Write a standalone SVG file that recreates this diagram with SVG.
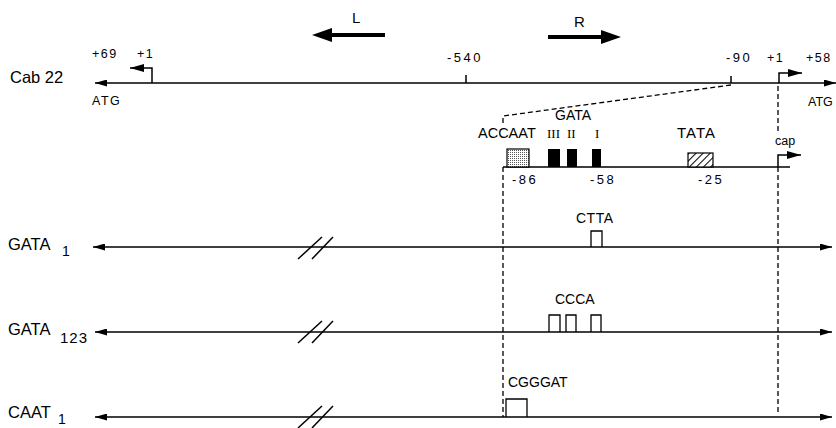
<svg xmlns="http://www.w3.org/2000/svg" width="836" height="428" viewBox="0 0 836 428">
<style>
  .ln { stroke:#000; stroke-width:1.5; fill:none; }
  .dash { stroke:#000; stroke-width:1.3; fill:none; stroke-dasharray:5 3; }
  .t { font-family:"Liberation Sans", Arial, sans-serif; fill:#000; }
  .r { font-family:"Liberation Serif", "Times New Roman", serif; fill:#000; }
  .lbl { font-size:16.5px; }
  .sub { font-size:14px; }
  .num { font-size:13px; letter-spacing:2.5px; }
  .pos { font-size:12.5px; letter-spacing:1.5px; }
  .seq { font-size:14px; }
  .box { stroke:#000; stroke-width:1.3; fill:none; }
</style>
<defs>
  <marker id="ah" markerUnits="userSpaceOnUse" markerWidth="12" markerHeight="7" refX="12" refY="3.5" orient="auto-start-reverse">
    <path d="M0,0 L12,3.5 L0,7 z" fill="#000"/>
  </marker>
  <marker id="bh" markerUnits="userSpaceOnUse" markerWidth="14" markerHeight="8" refX="14" refY="4" orient="auto">
    <path d="M0,0 L14,4 L0,8 z" fill="#000"/>
  </marker>
  <pattern id="dots" width="2" height="2" patternUnits="userSpaceOnUse">
    <rect width="2" height="2" fill="#fff"/>
    <rect width="1" height="1" fill="#555"/>
  </pattern>
  <pattern id="hatch" width="5" height="5" patternUnits="userSpaceOnUse" patternTransform="rotate(45)">
    <rect width="5" height="5" fill="#fff"/>
    <line x1="0" y1="0" x2="0" y2="5" stroke="#000" stroke-width="2"/>
  </pattern>
</defs>

<!-- direction arrows -->
<g id="arrow-L">
  <text class="t" x="352" y="23" font-size="15">L</text>
  <line x1="385" y1="35" x2="328" y2="35" stroke="#000" stroke-width="4"/>
  <polygon points="312,35 332,28 332,42" fill="#000"/>
</g>
<g id="arrow-R">
  <text class="t" x="574" y="27" font-size="15">R</text>
  <line x1="548" y1="37" x2="605" y2="37" stroke="#000" stroke-width="4"/>
  <polygon points="621,37 601,30 601,44" fill="#000"/>
</g>

<!-- Cab 22 -->
<g id="cab22">
  <text class="t lbl" x="10" y="83">Cab 22</text>
  <line class="ln" x1="95" y1="83" x2="836" y2="83" marker-start="url(#ah)" marker-end="url(#ah)"/>
  <polyline class="ln" points="152,83 152,68 130,68" marker-end="url(#bh)"/>
  <polyline class="ln" points="779,83 779,73 802,73" marker-end="url(#bh)"/>
  <line class="ln" x1="466" y1="75" x2="466" y2="83"/>
  <line class="ln" x1="731" y1="76" x2="731" y2="83"/>
  <text class="t pos" x="92" y="58">+69</text>
  <text class="t pos" x="137" y="58">+1</text>
  <text class="t pos" x="92" y="105" letter-spacing="0.5">ATG</text>
  <text class="t num" x="447" y="62">-540</text>
  <text class="t num" x="726" y="62">-90</text>
  <text class="t pos" x="767" y="62">+1</text>
  <text class="t pos" x="806" y="62" letter-spacing="1">+58</text>
  <text class="t" x="808" y="106" font-size="12.5">ATG</text>
</g>

<!-- promoter detail -->
<g id="promoter">
  <line class="ln" x1="503" y1="167" x2="790" y2="167"/>
  <rect x="507" y="149" width="22" height="18" fill="url(#dots)" stroke="#000" stroke-width="1.2"/>
  <rect x="548" y="149" width="12" height="18" fill="#000"/>
  <rect x="567" y="149" width="10" height="18" fill="#000"/>
  <rect x="592" y="149" width="9" height="18" fill="#000"/>
  <rect x="688" y="153" width="25" height="14" fill="url(#hatch)" stroke="#000" stroke-width="1.2"/>
  <polyline class="ln" points="778,167 778,155 801,155" marker-end="url(#bh)"/>
  <text class="t seq" x="555" y="120">GATA</text>
  <text class="t" x="478" y="138" font-size="14.5">ACCAAT</text>
  <text class="r" x="547" y="138" font-size="13">III</text>
  <text class="r" x="567" y="138" font-size="13">II</text>
  <text class="r" x="595" y="138" font-size="13">I</text>
  <text class="t" x="677" y="138" font-size="15" letter-spacing="1">TATA</text>
  <text class="t" x="775" y="145" font-size="12.5">cap</text>
  <text class="t num" x="512" y="184">-86</text>
  <text class="t num" x="590" y="184">-58</text>
  <text class="t num" x="698" y="184">-25</text>
</g>

<!-- GATA 1 -->
<g id="gata1">
  <text class="t lbl" x="8" y="250">GATA</text>
  <text class="t sub" x="62" y="256">1</text>
  <line class="ln" x1="93" y1="247" x2="832" y2="247" marker-start="url(#ah)" marker-end="url(#ah)"/>
  <line class="ln" x1="298" y1="259" x2="322" y2="237"/>
  <line class="ln" x1="312" y1="259" x2="333" y2="237"/>
  <path class="box" d="M591,247 V231 H602 V247"/>
  <text class="t seq" x="576" y="223" letter-spacing="0.5">CTTA</text>
</g>

<!-- GATA 123 -->
<g id="gata123">
  <text class="t lbl" x="8" y="335">GATA</text>
  <text class="t" x="60" y="343" font-size="15" letter-spacing="1">123</text>
  <line class="ln" x1="95" y1="332" x2="832" y2="332" marker-start="url(#ah)" marker-end="url(#ah)"/>
  <line class="ln" x1="298" y1="343" x2="322" y2="321"/>
  <line class="ln" x1="312" y1="343" x2="333" y2="321"/>
  <path class="box" d="M549,332 V315 H560 V332"/>
  <path class="box" d="M566,332 V315 H576 V332"/>
  <path class="box" d="M591,332 V315 H601 V332"/>
  <text class="t seq" x="555" y="304">CCCA</text>
</g>

<!-- CAAT 1 -->
<g id="caat1">
  <text class="t lbl" x="8" y="418">CAAT</text>
  <text class="t sub" x="58" y="424">1</text>
  <line class="ln" x1="95" y1="417" x2="832" y2="417" marker-start="url(#ah)" marker-end="url(#ah)"/>
  <line class="ln" x1="298" y1="428" x2="322" y2="406"/>
  <line class="ln" x1="312" y1="428" x2="333" y2="406"/>
  <path class="box" d="M506,417 V399 H527 V417"/>
  <text class="t seq" x="508" y="387">CGGGAT</text>
</g>

<!-- connectors -->
<g id="connectors">
  <polyline class="dash" points="731,85 503,116 503,126"/>
  <line class="dash" x1="503" y1="167" x2="503" y2="417"/>
  <line class="dash" x1="778" y1="86" x2="778" y2="134"/>
  <line class="dash" x1="778" y1="167" x2="778" y2="413"/>
</g>
</svg>
